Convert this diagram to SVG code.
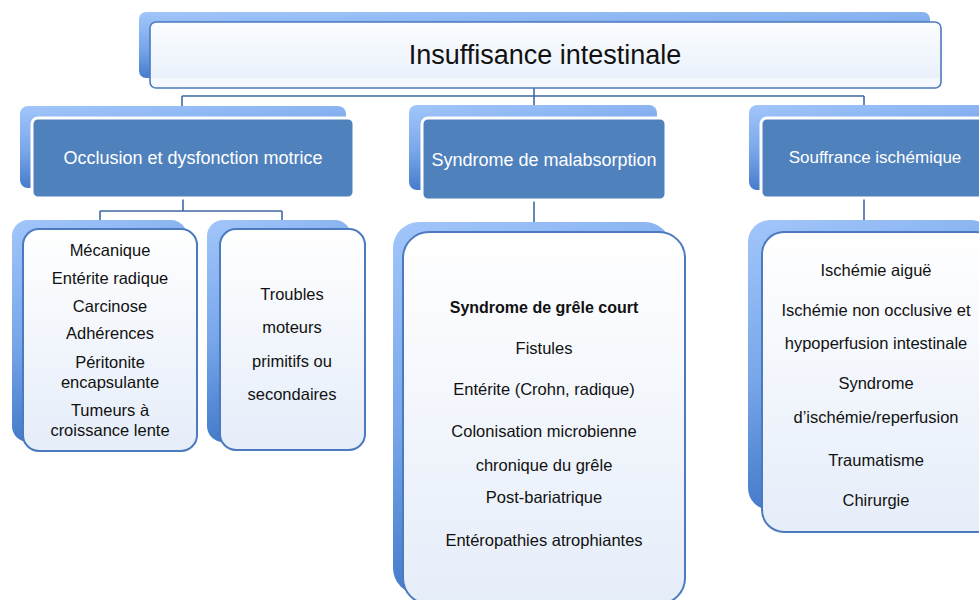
<svg xmlns="http://www.w3.org/2000/svg" width="979" height="600" viewBox="0 0 979 600">
<defs>
<linearGradient id="tab" x1="0" y1="0" x2="0.3" y2="1">
<stop offset="0" stop-color="#a2c6fb"/>
<stop offset="0.5" stop-color="#79a7ea"/>
<stop offset="1" stop-color="#3c74c6"/>
</linearGradient>
<linearGradient id="light" x1="0" y1="0" x2="0" y2="1">
<stop offset="0" stop-color="#ffffff"/>
<stop offset="1" stop-color="#e5edf9"/>
</linearGradient>
<linearGradient id="title" x1="0" y1="0" x2="0" y2="1">
<stop offset="0" stop-color="#fbfdff"/>
<stop offset="0.85" stop-color="#eaf1fb"/>
<stop offset="0.86" stop-color="#f5f8fd"/>
<stop offset="1" stop-color="#f5f8fd"/>
</linearGradient>
</defs>
<style>
.tab{fill:url(#tab);}
.lt{fill:url(#light);stroke:#4b7abf;stroke-width:2;}
.mid{fill:#4f81bd;stroke:#ffffff;stroke-width:3;}
.conn{fill:none;stroke:#3f6aa3;stroke-width:1.6;}
text{font-family:"Liberation Sans",Arial,sans-serif;text-anchor:middle;fill:#111111;}
.t2{fill:#ffffff;font-size:18px;}
.t3{font-size:16.5px;}
.t3b{font-size:16px;font-weight:bold;}
</style>
<g id="connectors">
<path class="conn" d="M534,88 V108 M182,96 H864 M182,96 V108 M864,96 V108"/>
<path class="conn" d="M183,198 V211 M100,211 H282 M100,211 V222 M282,211 V222"/>
<path class="conn" d="M534,200 V224"/>
<path class="conn" d="M864,198 V224"/>
</g>
<g id="root">
<rect class="tab" x="139" y="12" width="791" height="66" rx="7"/>
<rect x="150" y="22" width="791" height="66" rx="6" fill="url(#title)" stroke="#4b7abf" stroke-width="1.6"/>
<text x="545" y="64" style="font-size:27px">Insuffisance intestinale</text>
</g>
<g id="occlusion">
<rect class="tab" x="20" y="106" width="326" height="82" rx="8"/>
<rect class="mid" x="32" y="118" width="322" height="80" rx="6"/>
<text class="t2" x="193" y="164">Occlusion et dysfonction motrice</text>
</g>
<g id="malabsorption">
<rect class="tab" x="409" y="105" width="248" height="85" rx="8"/>
<rect class="mid" x="422" y="118" width="244" height="82" rx="6"/>
<text class="t2" x="544" y="166">Syndrome de malabsorption</text>
</g>
<g id="ischemique">
<rect class="tab" x="749" y="105" width="240" height="85" rx="8"/>
<rect class="mid" x="761" y="118" width="230" height="80" rx="6"/>
<text class="t2" x="875" y="163" style="font-size:17px">Souffrance ischémique</text>
</g>
<g id="mecanique">
<rect class="tab" x="12" y="220" width="175" height="222" rx="16"/>
<rect class="lt" x="23" y="229" width="174" height="222" rx="16"/>
<text class="t3" x="110" y="256">Mécanique</text>
<text class="t3" x="110" y="284">Entérite radique</text>
<text class="t3" x="110" y="312">Carcinose</text>
<text class="t3" x="110" y="339">Adhérences</text>
<text class="t3" x="110" y="368">Péritonite</text>
<text class="t3" x="110" y="388">encapsulante</text>
<text class="t3" x="110" y="416">Tumeurs à</text>
<text class="t3" x="110" y="436">croissance lente</text>
</g>
<g id="troubles">
<rect class="tab" x="207" y="220" width="144" height="222" rx="16"/>
<rect class="lt" x="220" y="229" width="145" height="221" rx="16"/>
<text class="t3" x="292" y="300">Troubles</text>
<text class="t3" x="292" y="333">moteurs</text>
<text class="t3" x="292" y="367">primitifs ou</text>
<text class="t3" x="292" y="400">secondaires</text>
</g>
<g id="grele">
<rect class="tab" x="393" y="222" width="278" height="372" rx="26"/>
<rect class="lt" x="403" y="232" width="282" height="372" rx="26"/>
<text class="t3b" x="544" y="313">Syndrome de grêle court</text>
<text class="t3" x="544" y="354">Fistules</text>
<text class="t3" x="544" y="395">Entérite (Crohn, radique)</text>
<text class="t3" x="544" y="437">Colonisation microbienne</text>
<text class="t3" x="544" y="471">chronique du grêle</text>
<text class="t3" x="544" y="503">Post-bariatrique</text>
<text class="t3" x="544" y="546">Entéropathies atrophiantes</text>
</g>
<g id="ischemie">
<rect class="tab" x="748" y="220" width="245" height="290" rx="22"/>
<rect class="lt" x="762" y="232" width="235" height="300" rx="22"/>
<text class="t3" x="876" y="276">Ischémie aiguë</text>
<text class="t3" x="876" y="316">Ischémie non occlusive et</text>
<text class="t3" x="876" y="349">hypoperfusion intestinale</text>
<text class="t3" x="876" y="389">Syndrome</text>
<text class="t3" x="876" y="423">d’ischémie/reperfusion</text>
<text class="t3" x="876" y="466">Traumatisme</text>
<text class="t3" x="876" y="506">Chirurgie</text>
</g>
</svg>
